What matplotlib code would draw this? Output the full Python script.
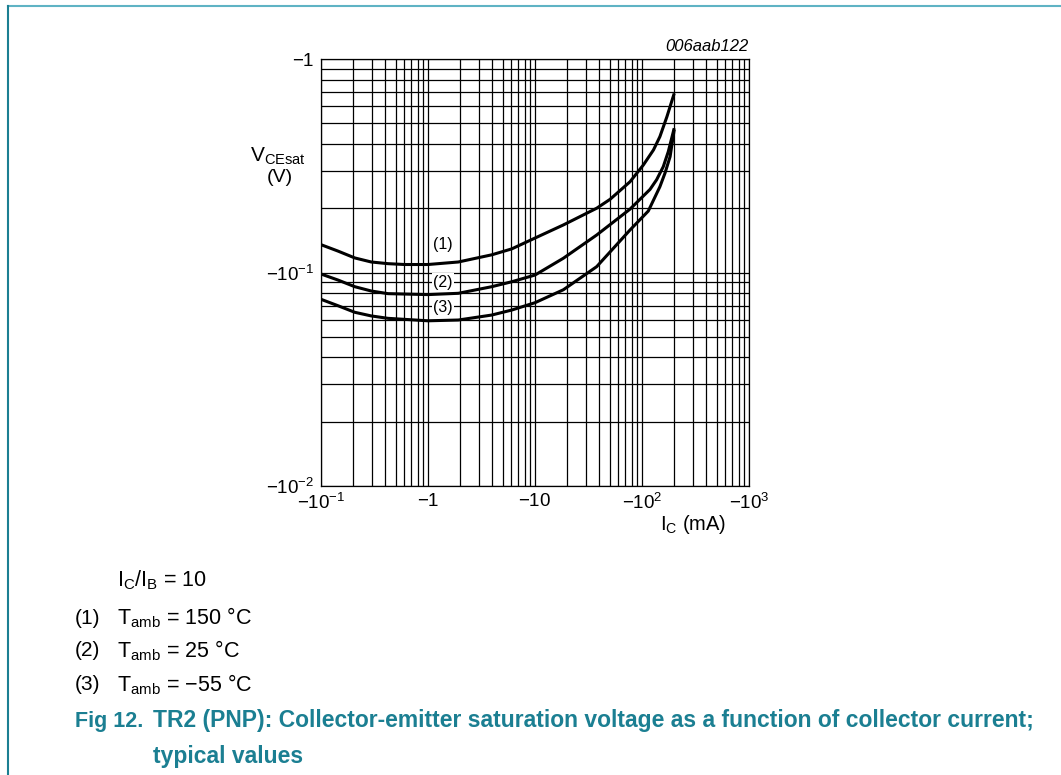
import matplotlib
matplotlib.use("Agg")
import matplotlib.pyplot as plt
from matplotlib.ticker import FixedLocator, FixedFormatter, NullFormatter

plt.rcParams["font.family"] = ["Liberation Sans", "DejaVu Sans"]
plt.rcParams["mathtext.fontset"] = "custom"
plt.rcParams["mathtext.rm"] = "Liberation Sans"
plt.rcParams["mathtext.it"] = "Liberation Sans:italic"
plt.rcParams["mathtext.bf"] = "Liberation Sans:bold"

# Collector current (mA, magnitude) and V_CEsat (V, magnitude)
ic_150 = [0.1, 0.144, 0.207, 0.295, 0.423, 0.604, 1.0, 1.92, 3.94, 6.06, 10, 18.4, 37.7, 50.2, 77.2, 103, 128, 147, 171, 200]
vce_150 = [0.135, 0.126, 0.117, 0.112, 0.110, 0.109, 0.109, 0.112, 0.121, 0.129, 0.145, 0.167, 0.200, 0.220, 0.266, 0.319, 0.375, 0.433, 0.537, 0.69]

ic_25 = [0.1, 0.144, 0.207, 0.295, 0.423, 1.0, 1.92, 3.94, 6.06, 10, 18.4, 37.7, 77.2, 100, 118.8, 137, 158, 176, 200]
vce_25 = [0.0984, 0.0922, 0.0858, 0.0819, 0.0796, 0.0788, 0.0799, 0.0858, 0.0905, 0.0973, 0.1166, 0.1498, 0.198, 0.225, 0.245, 0.272, 0.313, 0.368, 0.474]

ic_m55 = [0.1, 0.144, 0.207, 0.295, 0.423, 1.0, 1.92, 3.94, 6.06, 10, 18.4, 37.7, 77.2, 114.5, 147, 164, 183, 200]
vce_m55 = [0.0749, 0.0699, 0.0651, 0.0626, 0.0610, 0.0594, 0.0599, 0.0632, 0.0667, 0.0722, 0.0830, 0.1065, 0.1581, 0.1940, 0.2523, 0.292, 0.3487, 0.466]

curve_tags = ["(1)", "(2)", "(3)"]
tag_x = [1.38, 1.38, 1.38]
tag_y = [0.135, 0.0902, 0.0688]

x_ticks = [0.1, 1, 10, 100, 1000]
x_ticklabels = [r"$\mathregular{-10^{-1}}$", r"$\mathregular{-1}$", r"$\mathregular{-10}$",
                r"$\mathregular{-10^{2}}$", r"$\mathregular{-10^{3}}$"]
y_ticks = [0.01, 0.1, 1]
y_ticklabels = [r"$\mathregular{-10^{-2}}$", r"$\mathregular{-10^{-1}}$", r"$\mathregular{-1}$"]

legend_lines = [
    (None, r"I$_\mathregular{C}$/I$_\mathregular{B}$ = 10"),
    ("(1)", r"T$_\mathregular{amb}$ = 150 °C"),
    ("(2)", r"T$_\mathregular{amb}$ = 25 °C"),
    ("(3)", r"T$_\mathregular{amb}$ = $-$55 °C"),
]

W, H = 1061, 775
fig = plt.figure(figsize=(W / 100, H / 100), dpi=100)
ax = fig.add_axes([321 / W, 1 - 486 / H, 428 / W, 427 / H])

ax.set_xscale("log")
ax.set_yscale("log")
ax.set_xlim(0.1, 1000)
ax.set_ylim(0.01, 1)

minor_x = [m * 10.0 ** e for e in range(-1, 3) for m in range(2, 10)]
minor_y = [m * 10.0 ** e for e in range(-2, 0) for m in range(2, 10)]
ax.xaxis.set_major_locator(FixedLocator(x_ticks))
ax.xaxis.set_major_formatter(FixedFormatter(x_ticklabels))
ax.xaxis.set_minor_locator(FixedLocator(minor_x))
ax.xaxis.set_minor_formatter(NullFormatter())
ax.yaxis.set_major_locator(FixedLocator(y_ticks))
ax.yaxis.set_major_formatter(FixedFormatter(y_ticklabels))
ax.yaxis.set_minor_locator(FixedLocator(minor_y))
ax.yaxis.set_minor_formatter(NullFormatter())
ax.tick_params(which="both", length=0, labelsize=13.5, colors="black")
ax.tick_params(axis="x", pad=5)
ax.tick_params(axis="y", pad=5)
ax.grid(which="both", color="black", linewidth=0.9)
for s in ax.spines.values():
    s.set_linewidth(0.9)

for ic, vce in [(ic_150, vce_150), (ic_25, vce_25), (ic_m55, vce_m55)]:
    ax.plot(ic, vce, color="black", linewidth=2.2, solid_capstyle="butt", zorder=3)

for tag, tx, ty in zip(curve_tags, tag_x, tag_y):
    ax.text(tx, ty, tag, ha="center", va="center", fontsize=11.5, zorder=4,
            bbox=dict(facecolor="white", edgecolor="none", pad=1.0))

ax.text(1.0, 1.012, "006aab122", transform=ax.transAxes, ha="right", va="bottom",
        fontsize=12, style="italic")
fig.text(278 / W, 1 - 156 / H, r"V$_\mathregular{CEsat}$", ha="center", va="center", fontsize=15)
fig.text(280 / W, 1 - 178 / H, "(V)", ha="center", va="center", fontsize=14)
fig.text(693 / W, 1 - 525 / H, r"I$_\mathregular{C}$ (mA)", ha="center", va="center", fontsize=14.5)

# notes under the chart
note_y = [580, 618, 651, 685]
for (num, txt), yy in zip(legend_lines, note_y):
    if num:
        fig.text(75 / W, 1 - yy / H, num, ha="left", va="center", fontsize=15)
    fig.text(117 / W, 1 - yy / H, txt, ha="left", va="center", fontsize=15.5)

teal = "#1b7f92"
fig.text(75 / W, 1 - 721 / H, "Fig 12.", ha="left", va="center", fontsize=15.5,
         fontweight="bold", color=teal)
fig.text(153 / W, 1 - 721 / H,
         "TR2 (PNP): Collector-emitter saturation voltage as a function of collector current;",
         ha="left", va="center", fontsize=16.5, fontweight="bold", color=teal)
fig.text(153 / W, 1 - 757 / H, "typical values", ha="left", va="center", fontsize=16.5,
         fontweight="bold", color=teal)

# frame lines of the page
fig.add_artist(plt.Line2D([8 / W, 1], [1 - 6 / H, 1 - 6 / H], color="#5fb3c4", linewidth=1.5))
fig.add_artist(plt.Line2D([8 / W, 8 / W], [0, 1 - 6 / H], color="#1b7f92", linewidth=1.5))

fig.savefig("out.png", dpi=100)
